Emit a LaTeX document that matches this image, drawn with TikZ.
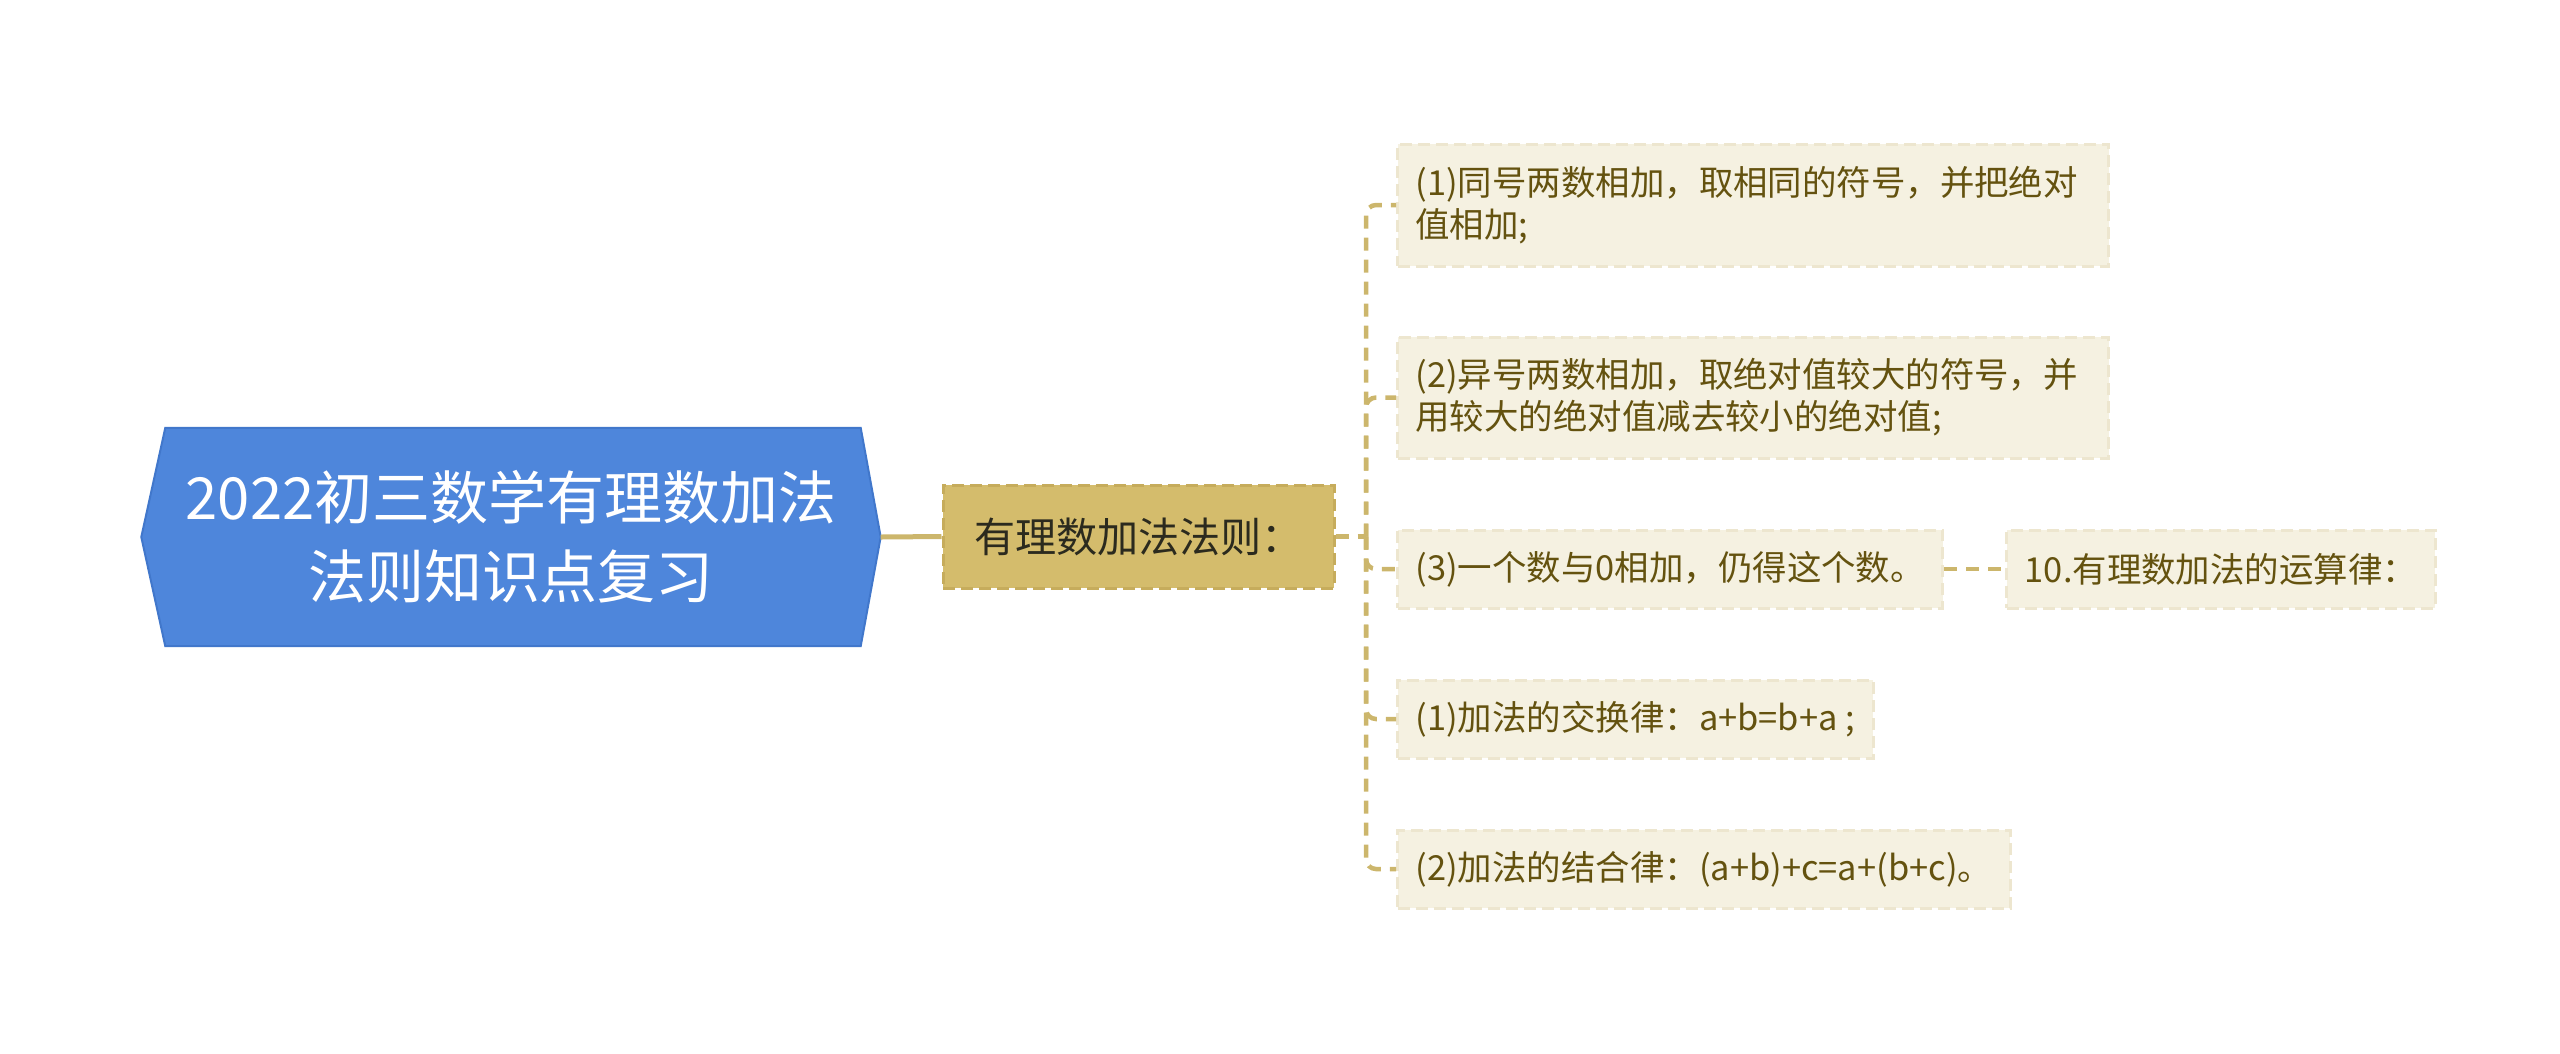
\documentclass[tikz,border=0pt]{standalone}
\usepackage{fontspec}
\setmainfont{Noto Sans CJK SC}
\usetikzlibrary{backgrounds,positioning}

\definecolor{rootblue}{HTML}{4E86DB}
\definecolor{rootedge}{HTML}{4177CB}
\definecolor{subfill}{HTML}{D4BC6C}
\definecolor{subline}{HTML}{C6AC5C}
\definecolor{subtext}{HTML}{2B2A1E}
\definecolor{leaffill}{HTML}{F5F1E1}
\definecolor{leafline}{HTML}{EDE6CF}
\definecolor{leaftext}{HTML}{64520F}
\definecolor{linegold}{HTML}{CCB66C}

\tikzset{
	leaf/.style={anchor=west,fill=leaffill,draw=leafline,line width=0.3mm,
		dash pattern=on 1.2mm off 0.6mm,text=leaftext,align=left,
		inner xsep=1.8mm,inner ysep=0mm,minimum height=7.8mm,
		font=\fontsize{9.8pt}{12pt}\selectfont},
	conn/.style={draw=linegold,line width=0.45mm,dash pattern=on 1.3mm off 0.9mm}
}

\begin{document}
\begin{tikzpicture}[x=1mm,y=-1mm]

	\useasboundingbox (0,0) rectangle (256,105.3);

	\node[minimum width=73.8mm,minimum height=21.7mm,text=white,align=center,
		font=\fontsize{16.5pt}{22.5pt}\selectfont] (root) at (51.1,53.7)
		{2022初三数学有理数加法\\法则知识点复习};
	\begin{scope}[on background layer]
	\filldraw[fill=rootblue,draw=rootedge,line width=0.2mm] (root.west)
		-- ([xshift=2.4mm]root.north west) -- ([xshift=-2mm]root.north east)
		-- (root.east) -- ([xshift=-2mm]root.south east)
		-- ([xshift=2.4mm]root.south west) -- cycle;
	\end{scope}

	\node[fill=subfill,draw=subline,line width=0.3mm,dash pattern=on 1.2mm off 0.6mm,
		minimum width=39.1mm,minimum height=10.3mm,text=subtext,
		font=\fontsize{11.7pt}{14pt}\selectfont] (sub) at (113.85,53.65) {有理数加法法则：};

	\node[leaf,text width=67.5mm,minimum height=12.2mm] (l1) at (139.6,20.5)
		{(1)同号两数相加，取相同的符号，并把绝对\\值相加;};
	\node[leaf,text width=67.5mm,minimum height=12.1mm] (l2) at (139.6,39.75)
		{(2)异号两数相加，取绝对值较大的符号，并\\用较大的绝对值减去较小的绝对值;};
	\node[leaf] (l3) at (139.6,56.9) {(3)一个数与0相加，仍得这个数。};
	\node[leaf,right=6.1mm of l3] (l10) {10.有理数加法的运算律：};
	\node[leaf] (l4) at (139.6,71.9) {(1)加法的交换律：a+b=b+a ;};
	\node[leaf] (l5) at (139.6,86.9) {(2)加法的结合律：(a+b)+c=a+(b+c)。};

	\coordinate (spine) at (136.6,53.65);
	\draw[linegold,line width=0.5mm] (root.east) -- (sub.west);
	\draw[conn] (sub.east) -- (spine);
	\foreach \n in {l1,l2,l3,l4,l5}
		\draw[conn,rounded corners=1mm] (spine) |- (\n.west);
	\draw[conn] (l3.east) -- (l10.west);

\end{tikzpicture}
\end{document}
